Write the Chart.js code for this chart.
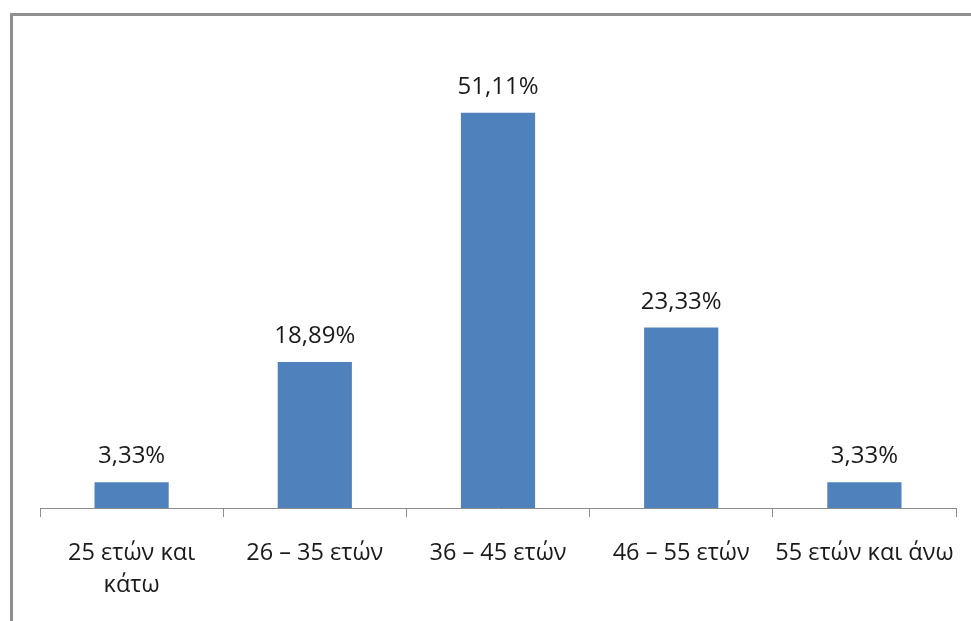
<!DOCTYPE html>
<html>
<head>
<meta charset="utf-8">
<title>Ηλικία</title>
<script src="https://cdn.jsdelivr.net/npm/chart.js@4.4.1/dist/chart.umd.min.js"></script>
<style>
  html, body { margin: 0; padding: 0; background: #ffffff; overflow: hidden; }
  #wrap { position: relative; width: 971px; height: 621px; overflow: hidden; }
  #frame {
    position: absolute; left: 10px; top: 13px; width: 1200px; height: 900px;
    border-top: 3px solid #8f8f8f; border-left: 3px solid #8f8f8f; box-sizing: border-box;
  }
  #chart { position: absolute; left: 0; top: 0; }
</style>
</head>
<body>
<div id="wrap">
  <div id="frame"></div>
  <canvas id="chart" width="971" height="621"></canvas>
</div>
<script>
// Age groups and their share of respondents (%)
const categories = [
  ['25 ετών και', 'κάτω'],
  '26 – 35 ετών',
  '36 – 45 ετών',
  '46 – 55 ετών',
  '55 ετών και άνω'
];
const shares = [3.33, 18.89, 51.11, 23.33, 3.33];

const FONT = '"Open Sans", "Noto Sans", sans-serif';

function formatPercent(v) {
  return v.toFixed(2).replace('.', ',') + '%';
}

// Writes each bar's value just above it
const valueLabels = {
  id: 'valueLabels',
  afterDatasetsDraw(chart) {
    const ctx = chart.ctx;
    const meta = chart.getDatasetMeta(0);
    ctx.save();
    ctx.font = '24px ' + FONT;
    ctx.fillStyle = '#1a1a1a';
    ctx.textAlign = 'center';
    ctx.textBaseline = 'alphabetic';
    meta.data.forEach((bar, i) => {
      ctx.fillText(formatPercent(shares[i]), bar.x, bar.y - 19);
    });
    ctx.restore();
  }
};

new Chart(document.getElementById('chart'), {
  type: 'bar',
  data: {
    labels: categories,
    datasets: [{
      data: shares,
      backgroundColor: '#4f81bd',
      borderWidth: 0,
      categoryPercentage: 1.0,
      barPercentage: 0.405
    }]
  },
  options: {
    responsive: false,
    animation: false,
    events: [],
    layout: { padding: { left: 40, right: 15, top: 44, bottom: 0 } },
    plugins: { legend: { display: false }, tooltip: { enabled: false } },
    scales: {
      x: {
        grid: {
          drawOnChartArea: false,
          drawTicks: true,
          tickLength: 9,
          color: '#8c8c8c',
          lineWidth: 1
        },
        border: { display: true, color: '#8c8c8c', width: 1 },
        ticks: {
          padding: 20,
          color: '#1a1a1a',
          font: { family: FONT, size: 23.5, lineHeight: 1.36 },
          maxRotation: 0,
          autoSkip: false
        },
        afterFit(scale) {
          // fixed axis band; long edge labels may overhang without shrinking the plot
          scale.height = 113;
          scale.paddingLeft = 0;
          scale.paddingRight = 0;
        }
      },
      y: {
        display: false,
        min: 0,
        max: 60
      }
    }
  },
  plugins: [valueLabels]
});
</script>
</body>
</html>
